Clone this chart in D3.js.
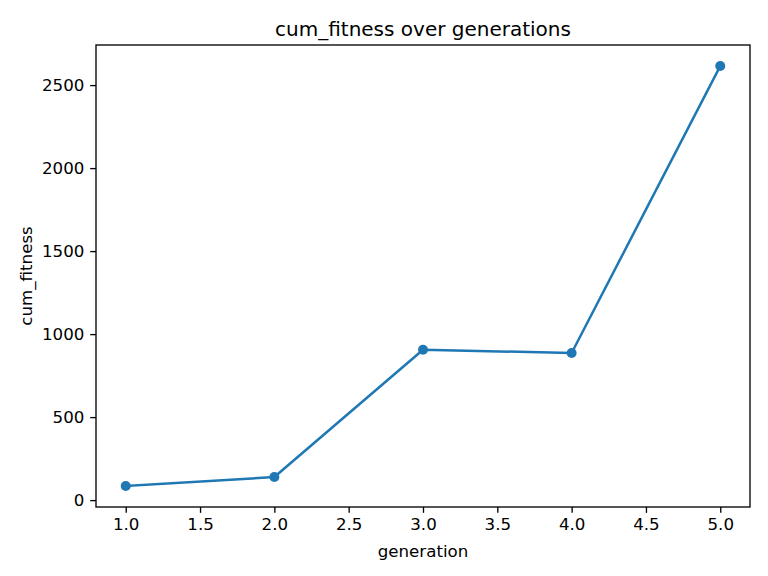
<!DOCTYPE html>
<html><head><meta charset="utf-8">
<script src="https://cdn.jsdelivr.net/npm/d3@7"></script>
<style>body{margin:0;background:#fff}svg{display:block}text{font-family:"DejaVu Sans",sans-serif;fill:#000}</style>
</head><body><svg id="c" width="768" height="576"></svg>
<script>
const generations = [1, 2, 3, 4, 5];
const cumFitness = [85, 139, 906, 886, 2615];
const xTicks = [1.0, 1.5, 2.0, 2.5, 3.0, 3.5, 4.0, 4.5, 5.0];
const yTicks = [0, 500, 1000, 1500, 2000, 2500];

const svg = d3.select("#c");
const L = 96, R = 750, T = 45, B = 507;
const xmin = d3.min(generations), xmax = d3.max(generations);
const ymin = d3.min(cumFitness), ymax = d3.max(cumFitness);
const xp = (xmax - xmin) * 0.05, yp = (ymax - ymin) * 0.05;
const x = d3.scaleLinear().domain([xmin - xp, xmax + xp]).range([L, R]);
const y = d3.scaleLinear().domain([ymin - yp, ymax + yp]).range([B, T]);

const xAxis = svg.append("g").attr("transform", `translate(0,${B})`)
  .call(d3.axisBottom(x).tickValues(xTicks).tickFormat(d3.format(".1f")).tickSize(5.83).tickPadding(5.83));
const yAxis = svg.append("g").attr("transform", `translate(${L},0)`)
  .call(d3.axisLeft(y).tickValues(yTicks).tickFormat(d3.format("d")).tickSize(5.83).tickPadding(5.83));
[xAxis, yAxis].forEach(a => {
  a.select(".domain").remove();
  a.selectAll(".tick line").attr("stroke", "#000").attr("stroke-width", 1.33);
  a.selectAll(".tick text").attr("font-size", "16.67px").attr("font-family", "DejaVu Sans");
});

svg.append("rect").attr("x", L).attr("y", T).attr("width", R - L).attr("height", B - T)
  .attr("fill", "none").attr("stroke", "#000").attr("stroke-width", 1.33);

const data = generations.map((g, i) => ({g, v: cumFitness[i]}));
svg.append("path").datum(data)
  .attr("fill", "none").attr("stroke", "#1f77b4").attr("stroke-width", 2.5)
  .attr("stroke-linejoin", "round").attr("stroke-linecap", "square")
  .attr("d", d3.line().x(d => x(d.g)).y(d => y(d.v)));
svg.selectAll("circle.pt").data(data).enter().append("circle")
  .attr("cx", d => x(d.g)).attr("cy", d => y(d.v)).attr("r", 5).attr("fill", "#1f77b4");

svg.append("text").attr("x", (L + R) / 2).attr("y", 36).attr("text-anchor", "middle")
  .attr("font-size", "20px").text("cum_fitness over generations");
svg.append("text").attr("x", (L + R) / 2).attr("y", 557).attr("text-anchor", "middle")
  .attr("font-size", "16.67px").text("generation");
svg.append("text").attr("transform", `translate(32,${(T + B) / 2}) rotate(-90)`).attr("text-anchor", "middle")
  .attr("font-size", "16.67px").text("cum_fitness");
</script></body></html>
